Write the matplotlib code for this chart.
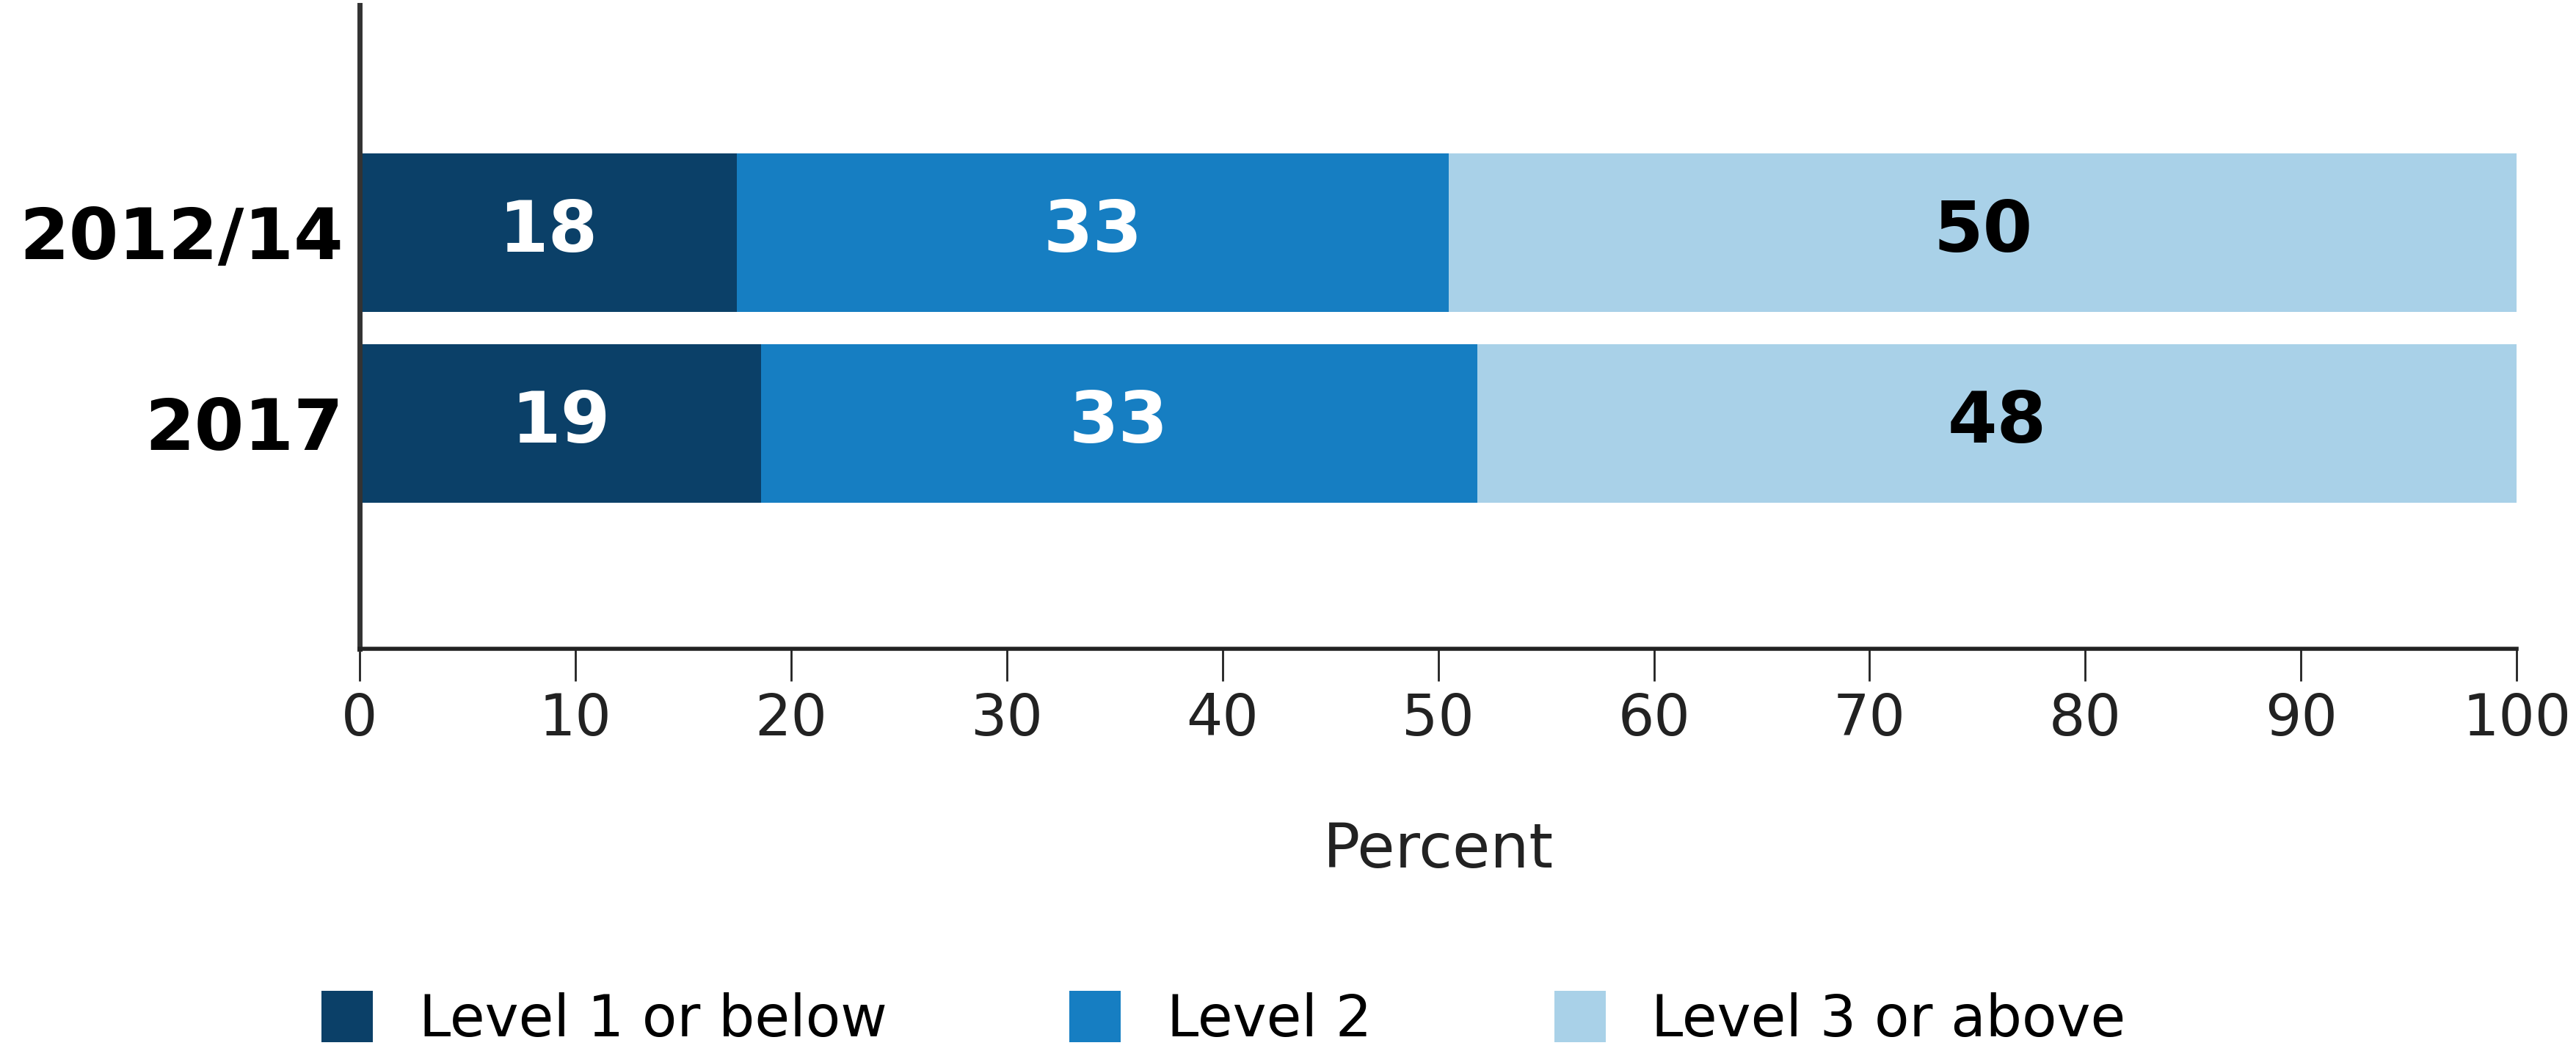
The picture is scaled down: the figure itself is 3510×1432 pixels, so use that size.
import matplotlib.pyplot as plt
from matplotlib.patches import Patch

# Literacy proficiency levels, percent of adults
years = ['2012/14', '2017']
level1 = [17.5, 18.6]
level2 = [33.0, 33.2]
level3 = [49.5, 48.2]
labels1 = ['18', '19']
labels2 = ['33', '33']
labels3 = ['50', '48']
series_names = ['Level 1 or below', 'Level 2', 'Level 3 or above']
colors = ['#0b4068', '#167ec2', '#a9d1e8']

plt.rcParams['font.family'] = ['DejaVu Sans']

fig = plt.figure(figsize=(17.55, 7.16), dpi=200)
ax = fig.add_axes([0.1396, 0.383, 0.8374, 0.612])

ypos = [1, 0]
h = 0.83
left2 = [a for a in level1]
left3 = [a + b for a, b in zip(level1, level2)]

ax.barh(ypos, level1, height=h, color=colors[0])
ax.barh(ypos, level2, left=left2, height=h, color=colors[1])
ax.barh(ypos, level3, left=left3, height=h, color=colors[2])

for i, y in enumerate(ypos):
    ax.text(level1[i] / 2, y, labels1[i], ha='center', va='center',
            color='white', fontsize=35, fontweight='bold')
    ax.text(left2[i] + level2[i] / 2, y, labels2[i], ha='center', va='center',
            color='white', fontsize=35, fontweight='bold')
    ax.text(left3[i] + level3[i] / 2, y, labels3[i], ha='center', va='center',
            color='black', fontsize=35, fontweight='bold')

ax.set_xlim(0, 100)
ax.set_ylim(-1.18, 2.19)
ax.set_xticks(range(0, 101, 10))
ax.set_yticks(ypos)
ax.set_yticklabels(years, fontsize=35, fontweight='bold')
ax.tick_params(axis='y', length=0, pad=8)
ax.tick_params(axis='x', length=16, width=1, labelsize=28, pad=5, colors='#222222')
ax.set_xlabel('Percent', fontsize=30, labelpad=36, color='#222222')

for s in ['top', 'right']:
    ax.spines[s].set_visible(False)
ax.spines['left'].set_linewidth(2.5)
ax.spines['left'].set_color('#333333')
ax.spines['left'].set_bounds(-1.18, 2.19)
ax.spines['bottom'].set_linewidth(2.0)
ax.spines['bottom'].set_color('#222222')

handles = [Patch(facecolor=c, edgecolor='none') for c in colors]
fig.legend(handles, series_names, loc='center', bbox_to_anchor=(0.475, 0.03),
           ncol=3, frameon=False, fontsize=28, handlelength=0.9, handleheight=1.0,
           handletextpad=0.8, columnspacing=3.2)

fig.savefig('out.png', dpi=200, facecolor='white')
